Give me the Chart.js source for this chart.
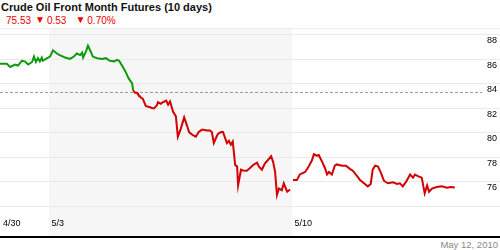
<!DOCTYPE html>
<html lang="en">

<head>
    <meta charset="UTF-8">
    <title>Crude Oil Front Month Futures (10 days)</title>
    <script src="https://cdn.jsdelivr.net/npm/chart.js"></script>
    <style>
        body {
            margin: 0;
            width: 500px;
            height: 250px;
            position: relative;
            overflow: hidden;
            background: #fff;
            font-family: 'Liberation Sans', Arial, sans-serif;
        }

        .titulo {
            position: absolute;
            left: 1px;
            top: 1px;
            font-size: 11px;
            font-weight: bold;
            color: #111;
            white-space: nowrap;
        }

        .cotacao {
            position: absolute;
            left: 6px;
            top: 14px;
            font-size: 10px;
            color: #e00;
            white-space: nowrap;
        }

        .cotacao .seta {
            font-size: 10px;
            vertical-align: 1px;
        }

        .divisoria {
            position: absolute;
            left: 0;
            top: 28px;
            width: 500px;
            height: 1px;
            background: #eee;
        }

        #grafico {
            position: absolute;
            left: 0;
            top: 29px;
        }

        .linha-base {
            position: absolute;
            left: 0;
            top: 236px;
            width: 500px;
            height: 2px;
            background: #000;
        }

        .data {
            position: absolute;
            right: 2px;
            top: 239px;
            font-size: 9.5px;
            color: #888;
        }
    </style>
</head>

<body>

    <div class="titulo">Crude Oil Front Month Futures (10 days)</div>
    <div class="cotacao"><span>75.53</span><span class="seta" style="margin-left:4px">&#9660;</span><span style="margin-left:2px">0.53</span><span class="seta" style="margin-left:9px">&#9660;</span><span style="margin-left:2px">0.70%</span></div>
    <div class="divisoria"></div>

    <canvas id="grafico" width="500" height="207"></canvas>

    <div class="linha-base"></div>
    <div class="data">May 12, 2010</div>

</body>

</html>
<script>

    // eixo x em dias de pregao (0 = 4/30)
    const dias = [0.00, 0.14, 0.21, 0.31, 0.37, 0.45, 0.51, 0.58, 0.66, 0.70,
        0.74, 0.78, 0.82, 0.86, 0.88, 0.97, 1.03, 1.09, 1.17, 1.23,
        1.34, 1.44, 1.52, 1.58, 1.65, 1.69, 1.71, 1.77, 1.81, 1.87,
        1.91, 2.00, 2.10, 2.18, 2.26, 2.35, 2.41, 2.45, 2.53, 2.59,
        2.65, 2.72, 2.74, 2.78, 2.82, 2.84, 2.90, 2.94, 3.00, 3.07,
        3.13, 3.17, 3.23, 3.25, 3.31, 3.35, 3.42, 3.46, 3.50, 3.56,
        3.62, 3.66, 3.72, 3.79, 3.85, 3.89, 3.97, 4.03, 4.09, 4.16,
        4.26, 4.32, 4.36, 4.40, 4.47, 4.49, 4.55, 4.59, 4.67, 4.71,
        4.75, 4.79, 4.84, 4.88, 4.90, 4.96, 5.00, 5.08, 5.14, 5.21,
        5.29, 5.33, 5.39, 5.45, 5.51, 5.58, 5.62, 5.66, 5.70, 5.74,
        5.80, 5.84, 5.91, 5.97, 6.00, 6.03, 6.11, 6.17, 6.28, 6.34,
        6.42, 6.46, 6.52, 6.56, 6.63, 6.69, 6.73, 6.77, 6.83, 6.89,
        6.93, 7.04, 7.12, 7.20, 7.26, 7.35, 7.41, 7.49, 7.57, 7.63,
        7.67, 7.72, 7.78, 7.84, 7.90, 7.98, 8.09, 8.17, 8.23, 8.29,
        8.37, 8.44, 8.50, 8.54, 8.60, 8.68, 8.74, 8.79, 8.83, 8.89,
        8.99, 9.09, 9.20, 9.28, 9.36];

    // precos (null = fim de semana)
    const precos = [85.62, 85.62, 85.36, 85.56, 85.48, 85.87, 85.82, 85.56, 85.77, 86.21,
        85.77, 86.08, 85.82, 86.13, 85.87, 86.08, 86.21, 86.72, 86.46, 86.33,
        86.13, 86.02, 86.21, 86.46, 86.33, 86.54, 86.13, 86.64, 87.10, 86.59,
        86.21, 86.08, 86.02, 86.08, 85.87, 85.82, 85.95, 85.87, 85.36, 84.92,
        84.41, 84.02, 83.46, 83.25, 83.25, 83.13, 82.87, 82.75, 82.18, 82.10,
        82.02, 81.98, 82.23, 82.48, 82.36, 82.48, 82.62, 82.28, 82.54, 81.72,
        81.33, 79.67, 80.31, 81.25, 80.56, 80.05, 79.79, 79.67, 80.05, 80.25,
        80.18, 80.18, 80.05, 79.15, 79.79, 79.92, 80.05, 80.05, 79.15, 79.33,
        79.02, 79.28, 77.36, 77.23, 75.69, 76.98, 76.92, 76.90, 77.10, 77.36,
        77.56, 77.23, 76.98, 77.48, 77.75, 78.08, 77.62, 76.85, 74.92, 75.44,
        75.31, 75.87, 75.18, 75.36, null, 76.13, 76.13, 76.59, 76.79, 77.15,
        77.75, 78.25, 78.13, 78.18, 77.62, 77.10, 76.59, 76.79, 76.59, 77.31,
        77.41, 77.31, 77.31, 77.05, 76.90, 76.46, 76.13, 75.87, 75.62, 75.82,
        76.98, 77.31, 77.23, 76.72, 76.08, 75.87, 75.95, 75.82, 75.87, 75.62,
        76.08, 76.59, 76.33, 76.59, 76.46, 76.33, 75.05, 75.69, 75.18, 75.44,
        75.56, 75.62, 75.51, 75.56, 75.53];

    const linhaReferencia = 83.28;

    const diasRotulos = [0, 1, 6];
    const rotulosX = ['4/30', '5/3', '5/10'];

    const valoresY = [74, 76, 78, 80, 82, 84, 86, 88];

    // semana destacada (5/3 ate 5/10)
    const semanaInicio = 1;
    const semanaFim = 6;

    const verde = '#0c9a0c';
    const vermelho = '#d20000';

    // fundo cinza da semana
    const fundoSemana = {
        id: 'fundoSemana',
        beforeDraw(chart) {
            const ctx = chart.ctx;
            const x = chart.scales.x;
            const x1 = Math.round(x.getPixelForValue(semanaInicio));
            const x2 = Math.round(x.getPixelForValue(semanaFim));
            ctx.save();
            ctx.fillStyle = '#f6f6f6';
            ctx.fillRect(x1, chart.chartArea.top, x2 - x1, chart.height);
            ctx.restore();
        }
    };

    let dadosPreco = dias.map(function (d, i) {
        return { x: d, y: precos[i] };
    });

    const config = {
        type: 'line',
        data: {
            datasets: [{
                data: dadosPreco,
                borderWidth: 2,
                borderColor: vermelho,
                pointRadius: 0,
                tension: 0,
                spanGaps: false,
                order: 1,
                segment: {
                    borderColor: function (ctx) {
                        return (ctx.p0.parsed.y >= linhaReferencia && ctx.p1.parsed.y >= linhaReferencia) ? verde : vermelho;
                    }
                }
            },
            {
                data: [{ x: 0, y: linhaReferencia }, { x: 9.92, y: linhaReferencia }],
                borderWidth: 1,
                borderColor: '#9a9a9a',
                borderDash: [3, 2],
                pointRadius: 0,
                order: 2
            }]
        },
        options: {
            responsive: false,
            animation: false,
            devicePixelRatio: 1,
            layout: { padding: { left: 0, right: 0, top: 0, bottom: 3 } },
            plugins: {
                legend: { display: false },
                tooltip: { enabled: false }
            },
            scales: {
                x: {
                    type: 'linear',
                    min: 0,
                    max: 10.29,
                    grid: { display: false },
                    border: { display: false },
                    afterBuildTicks: function (scale) {
                        scale.ticks = diasRotulos.map(function (v) { return { value: v }; });
                    },
                    afterFit: function (scale) {
                        scale.paddingLeft = 0;
                        scale.paddingRight = 0;
                    },
                    ticks: {
                        align: 'start',
                        labelOffset: 3,
                        padding: 4,
                        maxRotation: 0,
                        autoSkip: false,
                        color: '#000',
                        font: { family: "'Liberation Sans', Arial, sans-serif", size: 9 },
                        callback: function (value, index) {
                            return rotulosX[index];
                        }
                    }
                },
                y: {
                    position: 'right',
                    min: 74,
                    max: 88.46,
                    grid: { color: '#ebebeb', drawTicks: false },
                    border: { display: false },
                    afterBuildTicks: function (scale) {
                        scale.ticks = valoresY.map(function (v) { return { value: v }; });
                    },
                    afterFit: function (scale) {
                        scale.paddingTop = 0;
                        scale.paddingBottom = 0;
                        scale.width = 0;
                    },
                    ticks: {
                        mirror: true,
                        padding: -3,
                        labelOffset: 6,
                        color: '#000',
                        font: { family: "'Liberation Sans', Arial, sans-serif", size: 9 },
                        callback: function (value) {
                            return value === 74 ? '' : value;
                        }
                    }
                }
            }
        },
        plugins: [fundoSemana]
    };

    let grafico = new Chart(document.getElementById('grafico'), config);

</script>
